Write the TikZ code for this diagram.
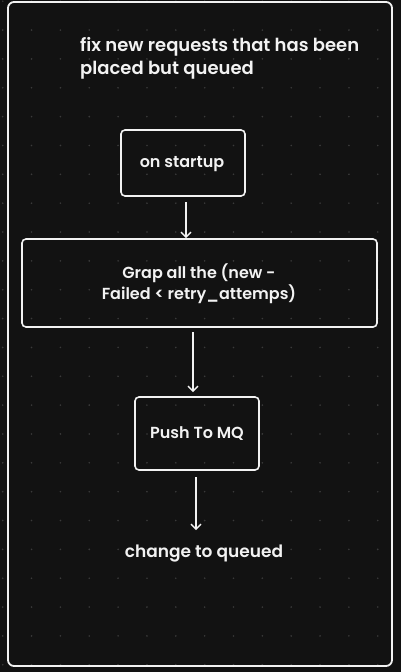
\documentclass[tikz,border=0pt]{standalone}
\usepackage{fontspec}
\setmainfont{Poppins}[UprightFont=* SemiBold, BoldFont=* Bold]
\usetikzlibrary{arrows.meta}
\definecolor{bg}{HTML}{121212}
\definecolor{dotc}{HTML}{3A3A3A}
\definecolor{ink}{HTML}{F2F2F2}
\tikzset{
  box/.style={draw=ink, line width=1.6pt, rounded corners=4pt, inner sep=0pt},
  lbl/.style={text=ink, font=\fontsize{16}{21}\selectfont, inner sep=0pt},
  flow/.style={draw=ink, line width=1.4pt, -{Straight Barb[length=5pt,width=10pt,line width=1.4pt]}}
}
\begin{document}
\begin{tikzpicture}[x=1pt,y=-1pt]
\fill[bg] (0,0) rectangle (401,672);
\useasboundingbox (0,0) rectangle (401,672);
% dot grid
\foreach \i in {0,...,13}{
  \foreach \j in {0,...,23}{
    \fill[dotc] (2.7+28.85*\i, 1.2+28.85*\j) circle (0.9pt);
  }
}
% frame
\draw[ink, line width=1.8pt, rounded corners=6pt] (8,2) rectangle (392,666);
% title
\node[lbl, font=\fontsize{18}{23}\selectfont, anchor=north west, align=left] (title) at (80,37) {fix new requests that has been\\placed but queued};
% boxes
\node[box, minimum width=124pt, minimum height=66pt] (s1) at (183,163) {};
\node[lbl] (t1) at (182,164) {on startup};
\node[box, minimum width=355pt, minimum height=88pt] (s2) at (199.5,283) {};
\node[lbl, align=center] (t2) at (199,283.5) {Grap all the (new -\\Failed < retry\_attemps)};
\node[box, minimum width=124pt, minimum height=73pt] (s3) at (197,433.5) {};
\node[lbl] (t3) at (197,434) {Push To MQ};
\node[lbl, font=\fontsize{17}{21}\selectfont] (t4) at (204,554) {change to queued};
% connectors
\coordinate (a1s) at (186,202);
\coordinate (a1e) at (186,238);
\coordinate (a2s) at (193,332);
\coordinate (a2e) at (193,392);
\coordinate (a3s) at (196,477);
\coordinate (a3e) at (196,530);
\draw[flow] (a1s) -- (a1e);
\draw[flow] (a2s) -- (a2e);
\draw[flow] (a3s) -- (a3e);
\end{tikzpicture}
\end{document}
